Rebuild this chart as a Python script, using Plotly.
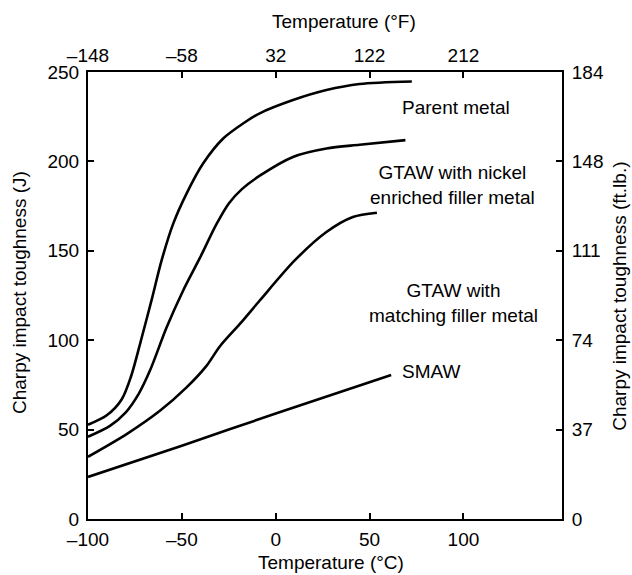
import plotly.graph_objects as go

# Temperature (°C) and Charpy impact toughness (J)
parent_t = [-100, -90, -82, -77, -72, -66, -60.8, -54.6, -47.5, -38.7, -28, -17.4, -8.5, 9.2, 27, 44.7, 72.5]
parent_j = [52.7, 58, 67, 80, 99, 123, 144.6, 165.2, 182, 198.8, 212.8, 221.2, 226.9, 234.3, 239.9, 243.3, 244.7]

nickel_t = [-100, -88.3, -80, -73, -67, -58.1, -49.3, -40.4, -31.5, -25, -18, -8.5, 9.2, 27, 44.7, 69.1]
nickel_j = [46, 52.1, 59.5, 70, 83, 107.2, 127.8, 146, 165, 176.5, 184.5, 192, 202.5, 207.2, 209.3, 211.9]

matching_t = [-100, -79.4, -61.7, -47.5, -37, -29.8, -19.1, -8.5, 10.1, 27, 41.1, 53.9]
matching_j = [34.8, 47.5, 60.5, 73.6, 85.5, 96.5, 109.1, 122.2, 144.6, 160.5, 168.9, 171.3]

smaw_t = [-100, -50, 0, 61.5]
smaw_j = [23.5, 41, 59, 80.5]

x_ticks_c = [-100, -50, 0, 50, 100]
x_labels_c = ["\u2013100", "\u201350", "0", "50", "100"]
x_labels_f = ["\u2013148", "\u201358", "32", "122", "212"]
y_ticks_j = [0, 50, 100, 150, 200, 250]
y_labels_j = ["0", "50", "100", "150", "200", "250"]
y_labels_ftlb = ["0", "37", "74", "111", "148", "184"]

labels = [
    ("Parent metal", 96.1, 230.3, "center"),
    ("GTAW with nickel<br>enriched filler metal", 94.1, 187, "center"),
    ("GTAW with<br>matching filler metal", 94.7, 120.8, "center"),
    ("SMAW", 66.3, 82.4, "left"),
]

FONT = "Liberation Sans, Arial, sans-serif"
FS = 19
X_RANGE = [-100, 152.5]
Y_RANGE = [0, 250]

fig = go.Figure()
for t, j in [(parent_t, parent_j), (nickel_t, nickel_j), (matching_t, matching_j), (smaw_t, smaw_j)]:
    fig.add_trace(go.Scatter(x=t, y=j, mode="lines", line=dict(color="black", width=2.6, shape="spline", smoothing=0.8),
                             showlegend=False, hoverinfo="skip"))

# dummy trace for the secondary axes
fig.add_trace(go.Scatter(x=[X_RANGE[0]], y=[0], xaxis="x2", yaxis="y2", mode="markers",
                         marker=dict(opacity=0), showlegend=False, hoverinfo="skip"))

axis_common = dict(showline=True, linecolor="black", linewidth=2, ticks="inside", ticklen=6,
                   tickwidth=1.5, tickcolor="black", showgrid=False, zeroline=False,
                   tickfont=dict(family=FONT, size=FS, color="black"))

fig.update_layout(
    width=632, height=575,
    margin=dict(l=88, r=70, t=72, b=56),
    paper_bgcolor="white", plot_bgcolor="white",
    xaxis=dict(range=X_RANGE, tickvals=x_ticks_c, ticktext=x_labels_c, ticklabelstandoff=2, **axis_common),
    xaxis2=dict(range=X_RANGE, tickvals=x_ticks_c, ticktext=x_labels_f, overlaying="x", side="top",
                anchor="y", **axis_common),
    yaxis=dict(range=Y_RANGE, tickvals=y_ticks_j, ticktext=y_labels_j, ticklabelstandoff=3, **axis_common),
    yaxis2=dict(range=Y_RANGE, tickvals=y_ticks_j, ticktext=y_labels_ftlb, overlaying="y", side="right",
                anchor="x", ticklabelstandoff=4, **axis_common),
)

for text, x, y, align in labels:
    fig.add_annotation(x=x, y=y, xref="x", yref="y", text=text, showarrow=False, align="center",
                       xanchor=align, yanchor="middle",
                       font=dict(family=FONT, size=FS, color="black"))

titles = [
    ("Temperature (\u00b0F)", 0.540, 1.112, 0),
    ("Temperature (\u00b0C)", 0.513, -0.098, 0),
    ("Charpy impact toughness (J)", -0.143, 0.506, -90),
    ("Charpy impact toughness (ft.lb.)", 1.122, 0.499, -90),
]
for text, x, y, ang in titles:
    fig.add_annotation(x=x, y=y, xref="paper", yref="paper", text=text, showarrow=False,
                       xanchor="center", yanchor="middle", textangle=ang,
                       font=dict(family=FONT, size=FS, color="black"))

fig.write_html("out.html")
